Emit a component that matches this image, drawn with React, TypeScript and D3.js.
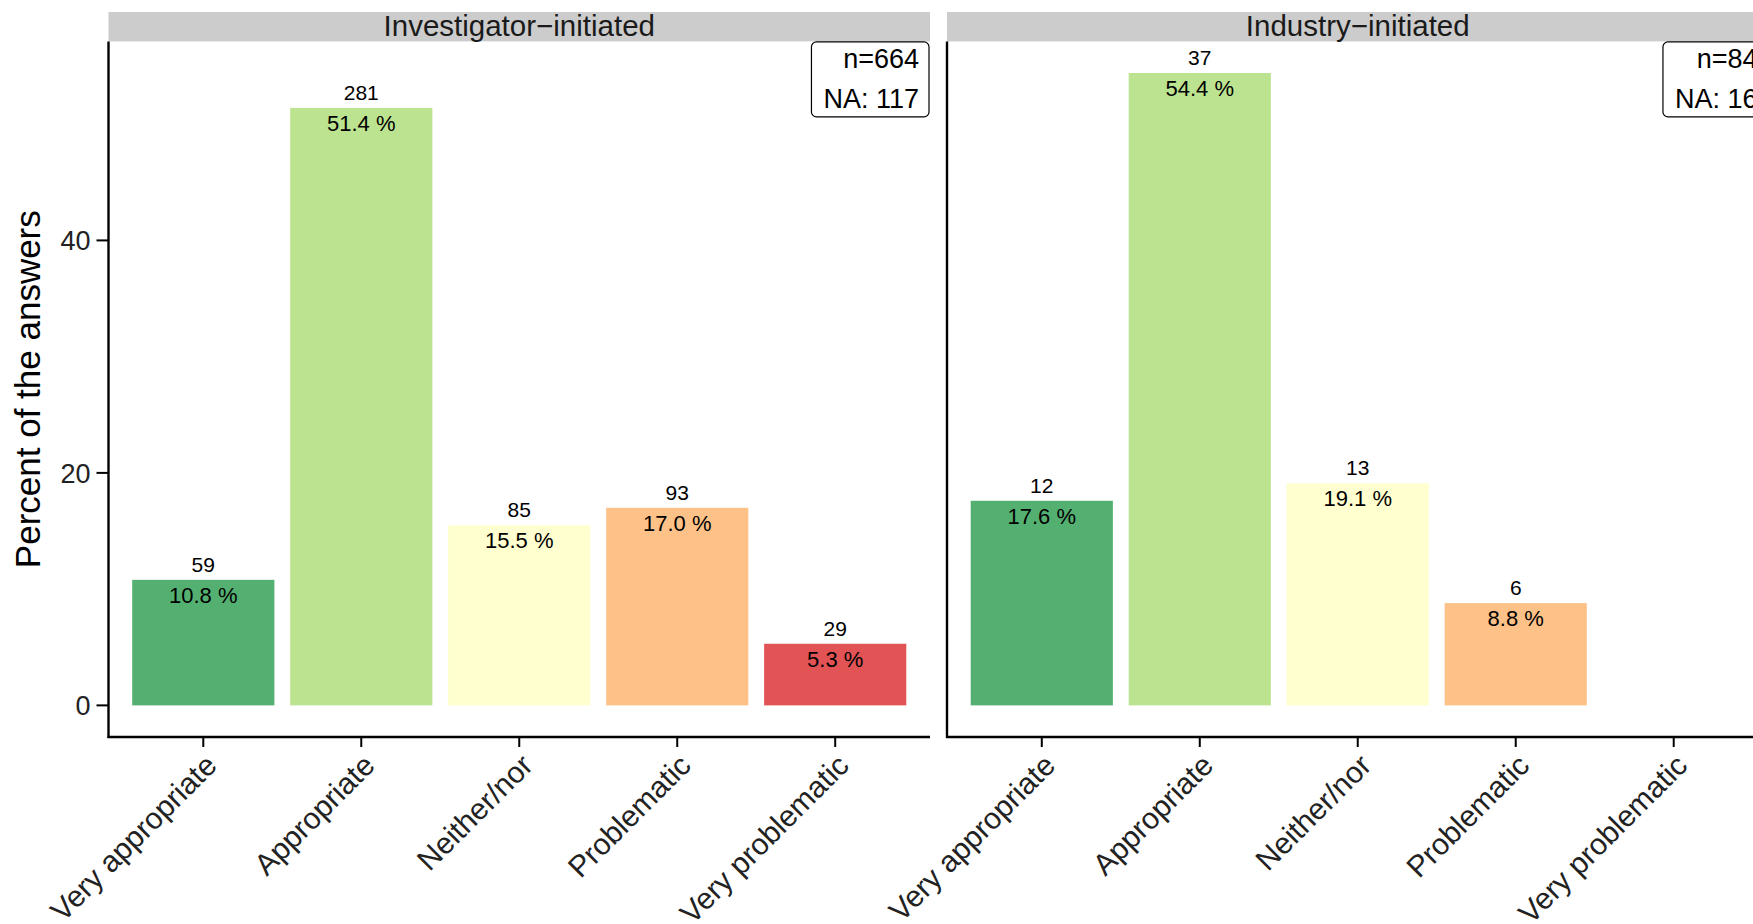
import React from 'react';
import * as d3 from 'd3';

const categories = ['Very appropriate', 'Appropriate', 'Neither/nor', 'Problematic', 'Very problematic'];
const panelTitles = ['Investigator\u2212initiated', 'Industry\u2212initiated'];
const investigatorCounts = [59, 281, 85, 93, 29];
const investigatorPct = [10.8, 51.4, 15.5, 17.0, 5.3];
const industryCounts = [12, 37, 13, 6, 0];
const industryPct = [17.6, 54.4, 19.1, 8.8, 0];
const totalN = [664, 84];
const naCounts = [117, 16];
const yTicks = [0, 20, 40];
const palette = ['#1a9641', '#a6d96a', '#ffffbf', '#fdae61', '#d7191c'];

const W = 1753;
const H = 924;
const FONT = '"Liberation Sans", Arial, Helvetica, sans-serif';
const panelTop = 41.4;
const panelBottom = 737;
const stripTop = 12;
const panelLefts = [108.5, 947];
const panelWidth = 821.5;

const measure = (() => {
  let ctx: CanvasRenderingContext2D | null = null;
  return (text: string, size: number) => {
    if (!ctx) ctx = document.createElement('canvas').getContext('2d');
    if (!ctx) return text.length * size * 0.55;
    ctx.font = `${size}px ${FONT}`;
    return ctx.measureText(text).width;
  };
})();

export default function App() {
  const panels = [
    { title: panelTitles[0], counts: investigatorCounts, pct: investigatorPct, n: totalN[0], na: naCounts[0] },
    { title: panelTitles[1], counts: industryCounts, pct: industryPct, n: totalN[1], na: naCounts[1] },
  ];
  const maxPct = d3.max([...investigatorPct, ...industryPct]) as number;
  const pad = maxPct * 0.05;
  const y = d3.scaleLinear().domain([-pad, maxPct + pad]).range([panelBottom, panelTop]);

  const boxFont = 27;

  return (
    <svg
      width={W}
      height={H}
      style={{ position: 'absolute', left: 0, top: 0, display: 'block', background: '#fff' }}
      fontFamily={FONT}
    >
      <rect x={0} y={0} width={W} height={H} fill="#fff" />
      {/* y axis title */}
      <text
        transform={`translate(40, ${(panelTop + panelBottom) / 2}) rotate(-90)`}
        textAnchor="middle"
        fontSize={35}
        fill="#000"
      >
        Percent of the answers
      </text>
      {/* y ticks (left panel only) */}
      {yTicks.map((t) => (
        <g key={t}>
          <line x1={panelLefts[0] - 12} x2={panelLefts[0]} y1={y(t)} y2={y(t)} stroke="#000" strokeWidth={2} />
          <text x={panelLefts[0] - 18} y={y(t)} dy="0.36em" textAnchor="end" fontSize={27} fill="#222">
            {t}
          </text>
        </g>
      ))}
      {panels.map((p, pi) => {
        const left = panelLefts[pi];
        const right = left + panelWidth;
        const x = d3.scaleBand<string>().domain(categories).range([left, right]).paddingInner(0.1).paddingOuter(0.15);
        const nText = `n=${p.n}`;
        const naText = `NA: ${p.na}`;
        const tw = Math.max(measure(nText, boxFont), measure(naText, boxFont));
        const boxRight = right - 1;
        const boxW = tw + 22;
        return (
          <g key={pi}>
            {/* strip */}
            <rect x={left} y={stripTop} width={panelWidth} height={panelTop - stripTop} fill="#cccccc" />
            <text x={(left + right) / 2} y={36} textAnchor="middle" fontSize={29.5} fill="#1a1a1a">
              {p.title}
            </text>
            {/* bars */}
            {categories.map((c, i) =>
              p.counts[i] > 0 ? (
                <g key={c}>
                  <rect
                    x={x(c)}
                    y={y(p.pct[i])}
                    width={x.bandwidth()}
                    height={y(0) - y(p.pct[i])}
                    fill={palette[i]}
                    fillOpacity={0.75}
                  />
                  <text
                    x={(x(c) as number) + x.bandwidth() / 2}
                    y={y(p.pct[i]) - 8}
                    textAnchor="middle"
                    fontSize={21}
                    fill="#000"
                  >
                    {p.counts[i]}
                  </text>
                  <text
                    x={(x(c) as number) + x.bandwidth() / 2}
                    y={y(p.pct[i]) + 23}
                    textAnchor="middle"
                    fontSize={22}
                    fill="#000"
                  >
                    {`${p.pct[i].toFixed(1)} %`}
                  </text>
                </g>
              ) : null
            )}
            {/* axis lines */}
            <line x1={left} x2={left} y1={panelTop} y2={panelBottom + 1} stroke="#000" strokeWidth={2.4} />
            <line x1={left - 1} x2={right} y1={panelBottom} y2={panelBottom} stroke="#000" strokeWidth={2.4} />
            {/* x ticks & labels */}
            {categories.map((c) => {
              const cx = (x(c) as number) + x.bandwidth() / 2;
              return (
                <g key={c}>
                  <line x1={cx} x2={cx} y1={panelBottom} y2={panelBottom + 10} stroke="#000" strokeWidth={2} />
                  <text
                    transform={`translate(${cx}, ${panelBottom + 15}) rotate(-45)`}
                    dy="0.72em"
                    textAnchor="end"
                    fontSize={30}
                    fill="#222"
                  >
                    {c}
                  </text>
                </g>
              );
            })}
            {/* n / NA box */}
            <rect
              x={boxRight - boxW}
              y={panelTop + 0.5}
              width={boxW}
              height={75}
              rx={5}
              ry={5}
              fill="#fff"
              stroke="#000"
              strokeWidth={1.2}
            />
            <text x={boxRight - 10} y={68} textAnchor="end" fontSize={boxFont} fill="#000">
              {nText}
            </text>
            <text x={boxRight - 10} y={108} textAnchor="end" fontSize={boxFont} fill="#000">
              {naText}
            </text>
          </g>
        );
      })}
    </svg>
  );
}
